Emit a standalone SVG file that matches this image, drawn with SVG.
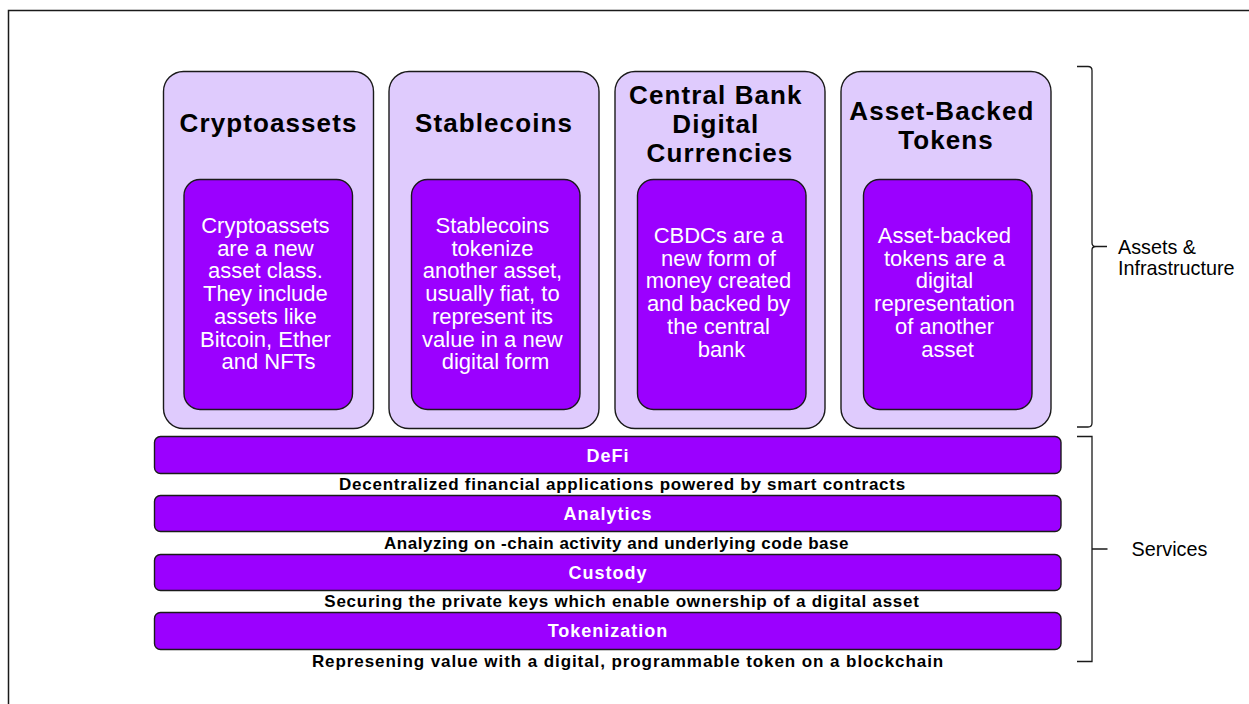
<svg xmlns="http://www.w3.org/2000/svg" width="1249" height="704" viewBox="0 0 1249 704">
  <style>
    .frame { fill: none; stroke: #1a1a1a; stroke-width: 1.5; }
    .outer { fill: #dfcbfd; stroke: #1a1a1a; stroke-width: 1.4; }
    .inner { fill: #9b00ff; stroke: #1a1a1a; stroke-width: 1.4; }
    .bar { fill: #9b00ff; stroke: #1a1a1a; stroke-width: 1.4; }
    .title { font-family: "Liberation Sans", Arial, sans-serif; font-weight: bold; font-size: 26px; letter-spacing: 1.1px; fill: #000; text-anchor: middle; }
    .body { font-family: "Liberation Sans", Arial, sans-serif; font-size: 22px; fill: #fff; text-anchor: middle; }
    .barlabel { font-family: "Liberation Sans", Arial, sans-serif; font-weight: bold; font-size: 18px; letter-spacing: 1px; fill: #fff; text-anchor: middle; }
    .desc { font-family: "Liberation Sans", Arial, sans-serif; font-weight: bold; font-size: 17px; letter-spacing: 0.75px; fill: #000; text-anchor: middle; }
    .brace { fill: none; stroke: #1a1a1a; stroke-width: 1.3; }
    .side { font-family: "Liberation Sans", Arial, sans-serif; font-size: 19.8px; fill: #000; }
  </style>

  <!-- page frame -->
  <path class="frame" d="M8.5,704 V10.5 H1249"/>

  <!-- asset categories -->
  <g id="cryptoassets">
    <rect class="outer" x="163.5" y="71.5" width="210" height="357" rx="20"/>
    <text class="title" x="268.5" y="132">Cryptoassets</text>
    <rect class="inner" x="184" y="179.5" width="168.5" height="230" rx="16"/>
    <text class="body">
      <tspan x="268.5" y="233">Cryptoassets</tspan>
      <tspan x="268.5" y="255.7">are a new</tspan>
      <tspan x="268.5" y="278.4">asset class.</tspan>
      <tspan x="268.5" y="301.1">They include</tspan>
      <tspan x="268.5" y="323.8">assets like</tspan>
      <tspan x="268.5" y="346.5">Bitcoin, Ether</tspan>
      <tspan x="268.5" y="369.2">and NFTs</tspan>
    </text>
  </g>

  <g id="stablecoins">
    <rect class="outer" x="389" y="71.5" width="210" height="357" rx="20"/>
    <text class="title" x="494" y="132">Stablecoins</text>
    <rect class="inner" x="411.5" y="179.5" width="168.5" height="230" rx="16"/>
    <text class="body">
      <tspan x="495.5" y="233">Stablecoins</tspan>
      <tspan x="495.5" y="255.7">tokenize</tspan>
      <tspan x="495.5" y="278.4">another asset,</tspan>
      <tspan x="495.5" y="301.1">usually fiat, to</tspan>
      <tspan x="495.5" y="323.8">represent its</tspan>
      <tspan x="495.5" y="346.5">value in a new</tspan>
      <tspan x="495.5" y="369.2">digital form</tspan>
    </text>
  </g>

  <g id="cbdc">
    <rect class="outer" x="615" y="71.5" width="210" height="357" rx="20"/>
    <text class="title">
      <tspan x="720" y="103.5">Central Bank</tspan>
      <tspan x="720" y="132.5">Digital</tspan>
      <tspan x="720" y="161.5">Currencies</tspan>
    </text>
    <rect class="inner" x="637.5" y="179.5" width="168.5" height="230" rx="16"/>
    <text class="body">
      <tspan x="721.5" y="243">CBDCs are a</tspan>
      <tspan x="721.5" y="265.7">new form of</tspan>
      <tspan x="721.5" y="288.4">money created</tspan>
      <tspan x="721.5" y="311.1">and backed by</tspan>
      <tspan x="721.5" y="333.8">the central</tspan>
      <tspan x="721.5" y="356.5">bank</tspan>
    </text>
  </g>

  <g id="asset-backed-tokens">
    <rect class="outer" x="841" y="71.5" width="210" height="357" rx="20"/>
    <text class="title">
      <tspan x="946" y="119.5">Asset-Backed</tspan>
      <tspan x="946" y="148.5">Tokens</tspan>
    </text>
    <rect class="inner" x="863.5" y="179.5" width="168.5" height="230" rx="16"/>
    <text class="body">
      <tspan x="947.5" y="243">Asset-backed</tspan>
      <tspan x="947.5" y="265.7">tokens are a</tspan>
      <tspan x="947.5" y="288.4">digital</tspan>
      <tspan x="947.5" y="311.1">representation</tspan>
      <tspan x="947.5" y="333.8">of another</tspan>
      <tspan x="947.5" y="356.5">asset</tspan>
    </text>
  </g>

  <!-- service layers -->
  <g id="defi">
    <rect class="bar" x="154.5" y="436.5" width="906.5" height="37" rx="6"/>
    <text class="barlabel" x="608" y="461.5">DeFi</text>
    <text class="desc" x="622.5" y="489.5">Decentralized financial applications powered by smart contracts</text>
  </g>

  <g id="analytics">
    <rect class="bar" x="154.5" y="495.5" width="906.5" height="36" rx="6"/>
    <text class="barlabel" x="608" y="519.5">Analytics</text>
    <text class="desc" x="616.5" y="549" style="letter-spacing:0.5px">Analyzing on -chain activity and underlying code base</text>
  </g>

  <g id="custody">
    <rect class="bar" x="154.5" y="554.5" width="906.5" height="36" rx="6"/>
    <text class="barlabel" x="608" y="578.5">Custody</text>
    <text class="desc" x="622" y="607">Securing the private keys which enable ownership of a digital asset</text>
  </g>

  <g id="tokenization">
    <rect class="bar" x="154.5" y="612.5" width="906.5" height="37" rx="6"/>
    <text class="barlabel" x="608" y="637">Tokenization</text>
    <text class="desc" x="628" y="667" style="letter-spacing:0.92px">Represening value with a digital, programmable token on a blockchain</text>
  </g>

  <!-- side braces -->
  <g id="connectors">
    <path class="brace" d="M1077,66.5 H1088 Q1092,66.5 1092,70.5 V243 Q1092,246.5 1096,246.5 H1107 M1096,246.5 Q1092,246.5 1092,250 V423 Q1092,427 1088,427 H1077"/>
    <path class="brace" d="M1077,436.5 H1092 V661.5 H1077 M1092,549 H1107.5"/>
  </g>

  <g id="label-assets-infrastructure">
    <text class="side">
      <tspan x="1118" y="253.5">Assets &amp;</tspan>
      <tspan x="1118" y="274.5">Infrastructure</tspan>
    </text>
  </g>
  <g id="label-services">
    <text class="side" x="1131.5" y="555.5">Services</text>
  </g>
</svg>
